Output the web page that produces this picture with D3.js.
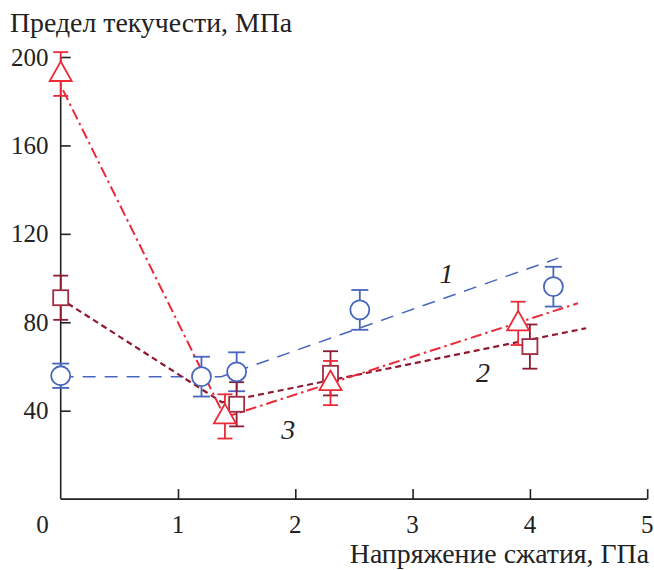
<!DOCTYPE html>
<html><head><meta charset="utf-8">
<script src="https://cdn.jsdelivr.net/npm/d3@7"></script>
<style>body{margin:0;background:#fff}svg{display:block}</style>
</head><body>
<script>
// Data
const xTicks = [0, 1, 2, 3, 4, 5];
const yTicks = [40, 80, 120, 160, 200];
// series 1: circles
const s1x = [0, 1.2, 1.5, 2.55, 4.2];
const s1y = [55.8, 55.4, 57.6, 85.6, 96.1];
const s1e = [5.5, 9, 8.8, 9, 9];
const l1x = [0, 1.37, 4.24];
const l1y = [55.4, 55.4, 109];
// series 2: squares
const s2x = [0, 1.5, 2.3, 4.0];
const s2y = [91.1, 42.9, 56.9, 69.0];
const s2e = [10, 10, 10, 10];
const l2x = [0.06, 1.375, 4.48];
const l2y = [88.5, 43.8, 77.3];
// series 3: triangles
const s3x = [0, 1.4, 2.3, 3.9];
const s3y = [192.3, 37.4, 52.5, 79.5];
const s3e = [9.9, 10, 10, 9.8];
const l3x = [0.02, 1.4, 4.41];
const l3y = [185, 37, 88.6];
const curveLabels = ["1", "2", "3"];
const labelX = [3.29, 3.6, 1.94];
const labelY = [97.8, 53, 27.4];

const W = 654, H = 570;
const x = d3.scaleLinear().domain([0, 5]).range([60.7, 647.2]);
const y = d3.scaleLinear().domain([0, 200]).range([499.1, 57]);
const FONT = '"Liberation Serif"';

const svg = d3.select("body").append("svg").attr("width", W).attr("height", H);

// axes
const gx = svg.append("g").attr("transform", `translate(0,${y(0)})`)
  .call(d3.axisBottom(x).tickValues(xTicks.slice(1)).tickSize(-10).tickFormat(""));
const gy = svg.append("g").attr("transform", `translate(${x(0)},0)`)
  .call(d3.axisLeft(y).tickValues(yTicks).tickSize(-10).tickFormat(""));
[gx, gy].forEach(g => {
  g.select(".domain").attr("stroke", "#222").attr("stroke-width", 1.6);
  g.selectAll(".tick line").attr("stroke", "#222").attr("stroke-width", 1.6);
});
gx.select(".domain").attr("d", `M${x(0)},0H${x(5)}`);
gy.select(".domain").attr("d", `M0,${y(0)}V${y(200)}`);

svg.append("g").selectAll("text").data(xTicks).join("text")
  .attr("x", d => d === 0 ? 42.5 : x(d)).attr("y", 533)
  .attr("text-anchor", "middle").style("font-family", FONT).style("font-size", "25px")
  .attr("fill", "#222").text(d => d);
svg.append("g").selectAll("text").data(yTicks).join("text")
  .attr("x", 48.5).attr("y", d => y(d) + 8.5)
  .attr("text-anchor", "end").style("font-family", FONT).style("font-size", "25px")
  .attr("fill", "#222").text(d => d);

svg.append("text").attr("x", 10).attr("y", 31.5).style("font-family", FONT)
  .style("font-size", "27.8px").attr("fill", "#222").text("Предел текучести, МПа");
svg.append("text").attr("x", 649).attr("y", 563).attr("text-anchor", "end")
  .style("font-family", FONT).style("font-size", "27.8px").attr("fill", "#222")
  .text("Напряжение сжатия, ГПа");

const line = d3.line().x(d => x(d[0])).y(d => y(d[1]));
const blue = "#4866bd", dark = "#8e1b30", red = "#ec2a38", sq = "#a02c42";

svg.append("path").attr("d", line(d3.zip(l1x, l1y))).attr("fill", "none")
  .attr("stroke", blue).attr("stroke-width", 1.5).attr("stroke-dasharray", "13,9");
svg.append("path").attr("d", line(d3.zip(l2x, l2y))).attr("fill", "none")
  .attr("stroke", dark).attr("stroke-width", 2.2).attr("stroke-dasharray", "6,4");
svg.append("path").attr("d", line(d3.zip(l3x, l3y))).attr("fill", "none")
  .attr("stroke", red).attr("stroke-width", 2).attr("stroke-dasharray", "11,4,2.5,4");

function errbars(xs, ys, es, color, cap) {
  const g = svg.append("g").attr("stroke", color).attr("stroke-width", 1.8).attr("fill", "none");
  xs.forEach((xv, i) => {
    const cx = x(xv), y1 = y(ys[i] + es[i]), y2 = y(ys[i] - es[i]);
    g.append("line").attr("x1", cx).attr("x2", cx).attr("y1", y1).attr("y2", y2);
    g.append("line").attr("x1", cx - cap).attr("x2", cx + cap).attr("y1", y1).attr("y2", y1);
    g.append("line").attr("x1", cx - cap).attr("x2", cx + cap).attr("y1", y2).attr("y2", y2);
  });
}
errbars(s1x, s1y, s1e, blue, 8.5);
errbars(s2x, s2y, s2e, dark, 7.5);
errbars(s3x, s3y, s3e, red, 7.5);

svg.append("g").selectAll("circle").data(d3.zip(s1x, s1y)).join("circle")
  .attr("cx", d => x(d[0])).attr("cy", d => y(d[1])).attr("r", 9.5)
  .attr("fill", "#fff").attr("stroke", blue).attr("stroke-width", 1.8);
svg.append("g").selectAll("rect").data(d3.zip(s2x, s2y)).join("rect")
  .attr("x", d => x(d[0]) - 7.5).attr("y", d => y(d[1]) - 7.5).attr("width", 15).attr("height", 15)
  .attr("fill", "#fff").attr("stroke", sq).attr("stroke-width", 1.8);
svg.append("g").selectAll("path").data(d3.zip(s3x, s3y)).join("path")
  .attr("d", d => { const cx = x(d[0]), cy = y(d[1]);
    return `M${cx},${cy - 12.5}L${cx + 11},${cy + 7}L${cx - 11},${cy + 7}Z`; })
  .attr("fill", "#fff").attr("stroke", red).attr("stroke-width", 1.8);

svg.append("g").selectAll("text").data(curveLabels).join("text")
  .attr("x", (d, i) => x(labelX[i])).attr("y", (d, i) => y(labelY[i]))
  .attr("text-anchor", "middle").style("font-family", FONT).style("font-style", "italic")
  .style("font-size", "28px").attr("fill", "#222").text(d => d);
</script>
</body></html>
